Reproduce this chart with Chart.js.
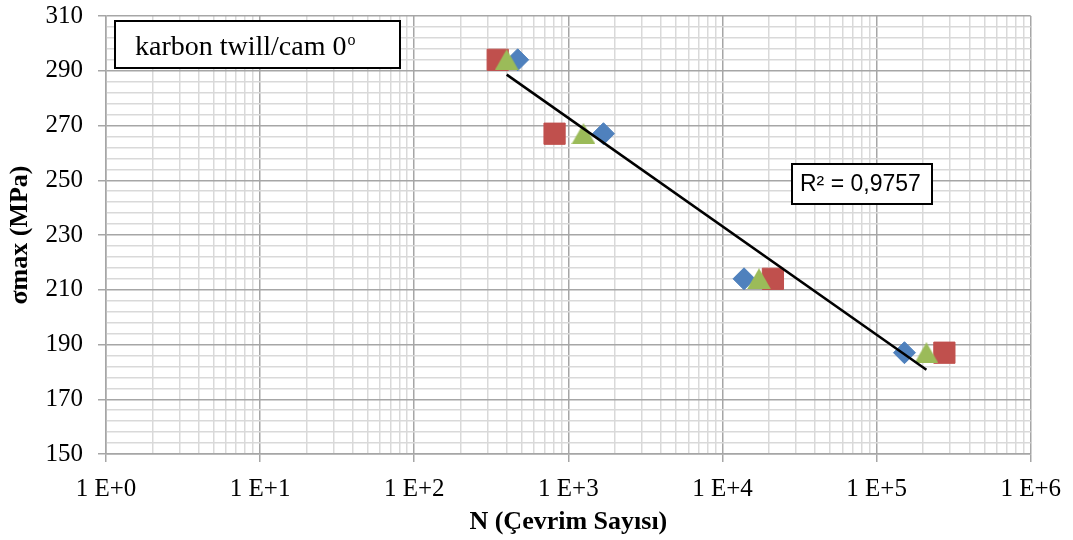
<!DOCTYPE html>
<html>
<head>
<meta charset="utf-8">
<script src="https://cdn.jsdelivr.net/npm/chart.js@4"></script>
<style>
  html, body { margin: 0; padding: 0; background: #fff; }
</style>
</head>
<body>
<canvas id="sn-chart" width="1073" height="540"></canvas>
<script>
// stress levels (MPa) shared by the three specimen series
const stressLevels = [294, 267, 214, 187];

// cycles to failure
const cyclesBlue = [469, 1690, 13800, 151700];
const cyclesRed = [348, 814, 21250, 275400];
const cyclesGreen = [398, 1254, 17250, 210600];

const xDecades = [1, 10, 100, 1000, 10000, 100000, 1000000];
const xDecadeLabels = ['1 E+0', '1 E+1', '1 E+2', '1 E+3', '1 E+4', '1 E+5', '1 E+6'];
const yLabels = [150, 170, 190, 210, 230, 250, 270, 290, 310];
const yMinorStep = 4;

const legendText = 'karbon twill/cam 0';
const r2Text = 'R² = 0,9757';

const majorGrid = '#a6a6a6';
const minorGrid = '#d9d9d9';

// log trend line for the green series (same fit as the spreadsheet trendline)
const lx = cyclesGreen.map(v => Math.log10(v));
const mx = lx.reduce((a, b) => a + b, 0) / lx.length;
const my = stressLevels.reduce((a, b) => a + b, 0) / stressLevels.length;
let sxy = 0, sxx = 0;
lx.forEach((x, i) => {
    sxy += (x - mx) * (stressLevels[i] - my);
    sxx += (x - mx) * (x - mx);
});
const slope = sxy / sxx;
const trendX = [Math.min(...cyclesGreen), Math.max(...cyclesGreen)];
const trendPoints = trendX.map(x => ({ x, y: my + slope * (Math.log10(x) - mx) }));

const xTicks = [];
xDecades.forEach(d => {
    xTicks.push(d);
    if (d < 1000000) {
        for (let m = 2; m <= 9; m++) xTicks.push(d * m);
    }
});
const yTicks = [];
for (let v = 150; v <= 310; v += yMinorStep) yTicks.push(v);
if (yTicks[yTicks.length - 1] !== 310) yTicks.push(310);

const isDecade = v => xDecades.includes(v);
const isYLabel = v => yLabels.includes(v);

const toPoints = xs => xs.map((x, i) => ({ x, y: stressLevels[i] }));

// triangle marker centred on its bounding box, like the spreadsheet one
function triangleMarker(color, w, h) {
    const c = document.createElement('canvas');
    c.width = w;
    c.height = h;
    const g = c.getContext('2d');
    g.fillStyle = color;
    g.beginPath();
    g.moveTo(w / 2, 0);
    g.lineTo(w, h);
    g.lineTo(0, h);
    g.closePath();
    g.fill();
    return c;
}

const boxes = {
    id: 'boxes',
    afterDatasetsDraw(chart) {
        const { ctx, chartArea } = chart;
        ctx.save();
        ctx.lineWidth = 2;
        ctx.strokeStyle = '#000';
        ctx.fillStyle = '#fff';

        // series label box
        const lx0 = chartArea.left + 9, ly0 = chartArea.top + 5;
        ctx.fillRect(lx0, ly0, 285, 47);
        ctx.strokeRect(lx0, ly0, 285, 47);
        ctx.fillStyle = '#000';
        ctx.font = '28px "Liberation Serif"';
        ctx.textBaseline = 'alphabetic';
        ctx.fillText(legendText, lx0 + 20, ly0 + 34);
        const w = ctx.measureText(legendText).width;
        ctx.font = '16px "Liberation Serif"';
        ctx.fillText('o', lx0 + 21 + w, ly0 + 24);

        // R² box
        const rx0 = chartArea.left + 686, ry0 = chartArea.top + 148;
        ctx.fillStyle = '#fff';
        ctx.fillRect(rx0, ry0, 140, 40);
        ctx.strokeRect(rx0, ry0, 140, 40);
        ctx.fillStyle = '#000';
        ctx.font = '23px "Liberation Sans"';
        ctx.textBaseline = 'middle';
        ctx.fillText(r2Text, rx0 + 8, ry0 + 21);
        ctx.restore();
    },
};

new Chart(document.getElementById('sn-chart'), {
    type: 'scatter',
    data: {
        datasets: [
            {
                type: 'line',
                data: trendPoints,
                borderColor: '#000',
                borderWidth: 2.5,
                pointRadius: 0,
                fill: false,
                order: 0,
            },
            {
                data: toPoints(cyclesGreen),
                pointStyle: triangleMarker('#9BBB59', 24, 21),
                pointRadius: 12,
                backgroundColor: '#9BBB59',
                borderColor: '#9BBB59',
                order: 1,
            },
            {
                data: toPoints(cyclesRed),
                pointStyle: 'rect',
                pointRadius: 15,
                backgroundColor: '#C0504D',
                borderColor: '#C0504D',
                borderWidth: 1,
                order: 2,
            },
            {
                data: toPoints(cyclesBlue),
                pointStyle: 'rectRot',
                pointRadius: 11,
                backgroundColor: '#4F81BD',
                borderColor: '#4F81BD',
                borderWidth: 1,
                order: 3,
            },
        ],
    },
    options: {
        responsive: false,
        animation: false,
        devicePixelRatio: 1,
        layout: {
            padding: { top: 15, right: 39, left: 0, bottom: 0 },
        },
        plugins: {
            legend: { display: false },
            tooltip: { enabled: false },
        },
        scales: {
            x: {
                type: 'logarithmic',
                min: 1,
                max: 1000000,
                afterBuildTicks(scale) {
                    scale.ticks = xTicks.map(value => ({ value }));
                },
                afterFit(scale) {
                    scale.height = 86;
                },
                ticks: {
                    autoSkip: false,
                    maxRotation: 0,
                    padding: 12,
                    color: '#000',
                    font: { family: '"Liberation Serif"', size: 25 },
                    callback: value => {
                        const i = xDecades.indexOf(value);
                        return i >= 0 ? xDecadeLabels[i] : '';
                    },
                },
                grid: {
                    lineWidth: 1.5,
                    color: ctx => (ctx.tick && isDecade(ctx.tick.value) ? majorGrid : minorGrid),
                    tickColor: ctx => (ctx.tick && isDecade(ctx.tick.value) ? majorGrid : 'transparent'),
                    tickLength: 8,
                },
                border: { color: majorGrid, width: 1.5 },
                title: {
                    display: true,
                    text: 'N (Çevrim Sayısı)',
                    color: '#000',
                    padding: { top: 0, bottom: 2 },
                    font: { family: '"Liberation Serif"', size: 26, weight: 'bold' },
                },
            },
            y: {
                min: 150,
                max: 310,
                afterBuildTicks(scale) {
                    scale.ticks = yTicks.map(value => ({ value }));
                },
                afterFit(scale) {
                    scale.width = 106;
                    scale.paddingTop = 0;
                    scale.paddingBottom = 0;
                },
                ticks: {
                    autoSkip: false,
                    padding: 15,
                    color: '#000',
                    font: { family: '"Liberation Serif"', size: 25 },
                    callback: value => (isYLabel(value) ? String(value) : ''),
                },
                grid: {
                    lineWidth: 1.5,
                    color: ctx => (ctx.tick && isYLabel(ctx.tick.value) ? majorGrid : minorGrid),
                    tickColor: ctx => (ctx.tick && isYLabel(ctx.tick.value) ? majorGrid : 'transparent'),
                    tickLength: 8,
                },
                border: { color: majorGrid, width: 1.5 },
                title: {
                    display: true,
                    text: 'σmax (MPa)',
                    color: '#000',
                    padding: { top: 5, bottom: 0 },
                    font: { family: '"Liberation Serif"', size: 26, weight: 'bold' },
                },
            },
        },
    },
    plugins: [boxes],
});
</script>
</body>
</html>
